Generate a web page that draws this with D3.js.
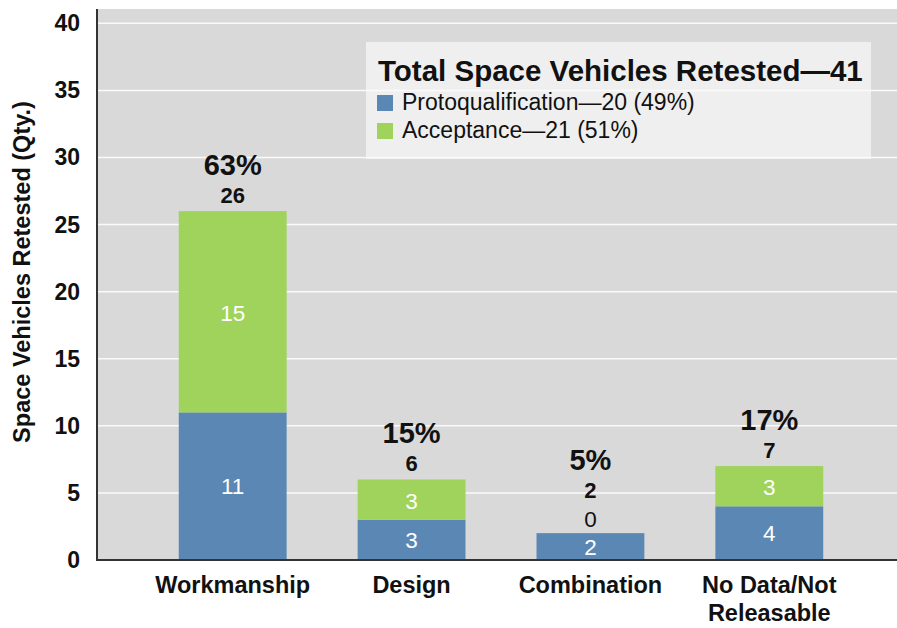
<!DOCTYPE html>
<html>
<head>
<meta charset="utf-8">
<script src="https://cdn.jsdelivr.net/npm/d3@7"></script>
<style>
  body { margin: 0; background: #fff; }
  text { font-family: "Liberation Sans", Arial, sans-serif; }
</style>
</head>
<body>
<div id="chart"></div>
<script>
var categories = ["Workmanship", "Design", "Combination", "No Data/Not Releasable"];
var protoqual = [11, 3, 2, 4];
var acceptance = [15, 3, 0, 3];
var totals = [26, 6, 2, 7];
var percents = ["63%", "15%", "5%", "17%"];
var yTicks = [0, 5, 10, 15, 20, 25, 30, 35, 40];
var legendItems = ["Protoqualification\u201420 (49%)", "Acceptance\u201421 (51%)"];

function init() {
    var w = 897;
    var h = 628;
    var left = 97, top = 9, right = 897, bottom = 560;
    var blue = "#5b87b4", green = "#9fd35b";

    var svg = d3.select("#chart")
        .append("svg")
        .attr("width", w)
        .attr("height", h);

    var xScale = d3.scaleBand()
        .domain(categories)
        .range([143, 859])
        .paddingInner(0.397)
        .paddingOuter(0.2);

    var yScale = d3.scaleLinear()
        .domain([0, 40])
        .range([bottom, 23.3]);

    // plot background
    svg.append("rect")
        .attr("x", left)
        .attr("y", top)
        .attr("width", right - left)
        .attr("height", bottom - top)
        .attr("fill", "#d9d9d9");

    // legend box (under gridlines)
    svg.append("rect")
        .attr("x", 366)
        .attr("y", 42)
        .attr("width", 505)
        .attr("height", 117)
        .attr("fill", "#efefef");

    // gridlines
    svg.append("g")
        .selectAll("line")
        .data(yTicks.slice(1))
        .enter().append("line")
        .attr("x1", left)
        .attr("x2", right)
        .attr("y1", function(d) { return yScale(d); })
        .attr("y2", function(d) { return yScale(d); })
        .attr("stroke", "#fafafa")
        .attr("stroke-width", 1.5);

    var bw = xScale.bandwidth();

    // protoqualification segments
    svg.append("g")
        .selectAll("rect")
        .data(categories)
        .enter().append("rect")
        .attr("x", function(d) { return xScale(d); })
        .attr("y", function(d, i) { return yScale(protoqual[i]); })
        .attr("width", bw)
        .attr("height", function(d, i) { return yScale(0) - yScale(protoqual[i]); })
        .attr("fill", blue);

    // acceptance segments
    svg.append("g")
        .selectAll("rect")
        .data(categories)
        .enter().append("rect")
        .attr("x", function(d) { return xScale(d); })
        .attr("y", function(d, i) { return yScale(protoqual[i] + acceptance[i]); })
        .attr("width", bw)
        .attr("height", function(d, i) { return yScale(protoqual[i]) - yScale(protoqual[i] + acceptance[i]); })
        .attr("fill", green);

    // segment + total labels
    categories.forEach(function(c, i) {
        var cx = xScale(c) + bw / 2;
        svg.append("text")
            .attr("x", cx)
            .attr("y", (yScale(0) + yScale(protoqual[i])) / 2 + 8)
            .attr("text-anchor", "middle")
            .attr("font-size", "22.5px")
            .attr("fill", "#fff")
            .text(protoqual[i]);

        var accY = acceptance[i] > 0
            ? (yScale(protoqual[i]) + yScale(protoqual[i] + acceptance[i])) / 2 + 9
            : yScale(totals[i]) - 6;
        svg.append("text")
            .attr("x", cx)
            .attr("y", accY)
            .attr("text-anchor", "middle")
            .attr("font-size", "22.5px")
            .attr("fill", acceptance[i] > 0 ? "#fff" : "#111")
            .text(acceptance[i]);

        var topY = yScale(totals[i]) - (acceptance[i] > 0 ? 0 : 27);
        svg.append("text")
            .attr("x", cx)
            .attr("y", topY - 8)
            .attr("text-anchor", "middle")
            .attr("font-size", "22px")
            .attr("font-weight", "bold")
            .attr("fill", "#111")
            .text(totals[i]);

        svg.append("text")
            .attr("x", cx)
            .attr("y", topY - 36)
            .attr("text-anchor", "middle")
            .attr("font-size", "29px")
            .attr("font-weight", "bold")
            .attr("fill", "#111")
            .text(percents[i]);
    });

    // axis lines
    svg.append("line")
        .attr("x1", left).attr("x2", left)
        .attr("y1", top).attr("y2", bottom)
        .attr("stroke", "#333").attr("stroke-width", 2);
    svg.append("line")
        .attr("x1", left - 1).attr("x2", right)
        .attr("y1", bottom).attr("y2", bottom)
        .attr("stroke", "#333").attr("stroke-width", 2);

    // y tick labels
    svg.append("g")
        .selectAll("text")
        .data(yTicks)
        .enter().append("text")
        .attr("x", 80)
        .attr("y", function(d) { return yScale(d) + 8; })
        .attr("text-anchor", "end")
        .attr("font-size", "23px")
        .attr("font-weight", "bold")
        .attr("fill", "#111")
        .text(function(d) { return d; });

    // category labels
    categories.forEach(function(c) {
        var lines = c === "No Data/Not Releasable" ? ["No Data/Not", "Releasable"] : [c];
        var t = svg.append("text")
            .attr("x", xScale(c) + bw / 2)
            .attr("y", 593)
            .attr("text-anchor", "middle")
            .attr("font-size", "23.5px")
            .attr("font-weight", "bold")
            .attr("fill", "#111");
        lines.forEach(function(l, j) {
            t.append("tspan")
                .attr("x", xScale(c) + bw / 2)
                .attr("dy", j === 0 ? 0 : 28)
                .text(l);
        });
    });

    // y axis title
    svg.append("text")
        .attr("transform", "rotate(-90)")
        .attr("x", -272)
        .attr("y", 30)
        .attr("text-anchor", "middle")
        .attr("font-size", "23.5px")
        .attr("font-weight", "bold")
        .attr("fill", "#111")
        .text("Space Vehicles Retested (Qty.)");

    // legend
    svg.append("text")
        .attr("x", 378)
        .attr("y", 81)
        .attr("font-size", "29.5px")
        .attr("font-weight", "bold")
        .attr("fill", "#111")
        .text("Total Space Vehicles Retested\u201441");

    var legendColors = [blue, green];
    legendItems.forEach(function(item, i) {
        svg.append("rect")
            .attr("x", 377)
            .attr("y", 95 + i * 28)
            .attr("width", 16)
            .attr("height", 16)
            .attr("fill", legendColors[i]);
        svg.append("text")
            .attr("x", 402)
            .attr("y", 110 + i * 28)
            .attr("font-size", "23px")
            .attr("fill", "#111")
            .text(item);
    });
}
window.onload = init;
</script>
</body>
</html>
